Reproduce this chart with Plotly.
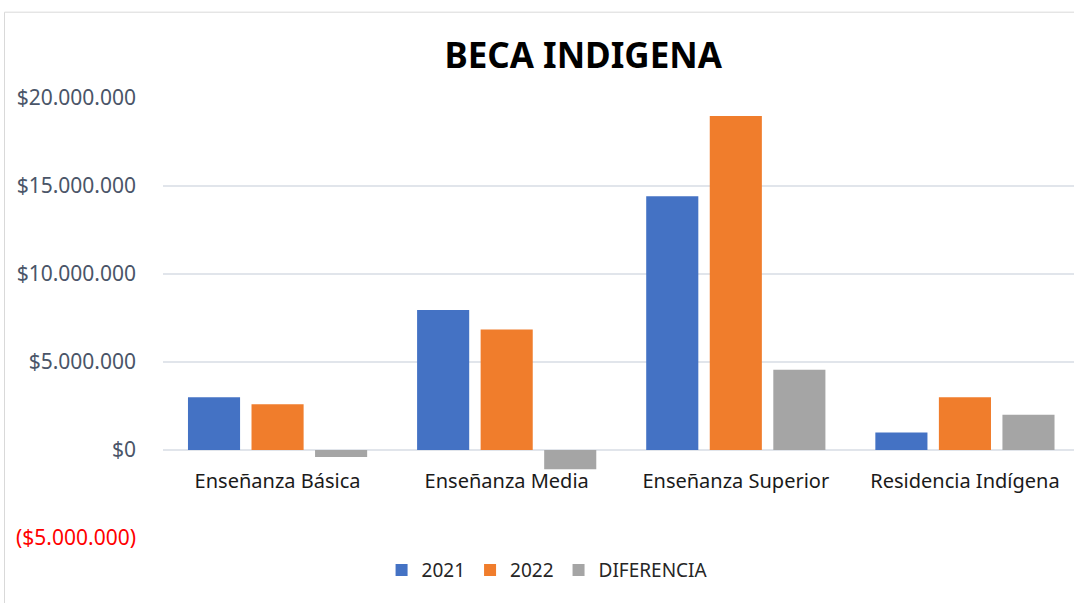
import plotly.graph_objects as go

categories = ["Enseñanza Básica", "Enseñanza Media", "Enseñanza Superior", "Residencia Indígena"]
v2021 = [3000000, 7950000, 14420000, 1000000]
v2022 = [2600000, 6850000, 18980000, 3000000]
vdif = [-400000, -1100000, 4560000, 2000000]
series_names = ["2021", "2022", "DIFERENCIA"]
colors = ["#4472C4", "#F07D2C", "#A5A5A5"]
tick_vals = [-5000000, 0, 5000000, 10000000, 15000000, 20000000]
tick_text = ['<span style="color:#FF0000">($5.000.000)</span>', "$0", "$5.000.000",
             "$10.000.000", "$15.000.000", "$20.000.000"]

fig = go.Figure()
for name, vals, c in zip(series_names, [v2021, v2022, vdif], colors):
    fig.add_trace(go.Bar(x=categories, y=vals, name=name, marker=dict(color=c, line=dict(width=0))))

FONT = "Noto Sans"
fig.update_layout(
    width=1074, height=603,
    margin=dict(l=163, r=0, t=98, b=65),
    paper_bgcolor="white", plot_bgcolor="white",
    barmode="group", bargap=0.168, bargroupgap=0.18,
    title=dict(text="<b>BECA INDIGENA</b>", x=0.543, xref="container", xanchor="center",
               y=0.908, yref="container", yanchor="middle",
               font=dict(family=FONT, size=35, color="#000000")),
    legend=dict(orientation="h", x=0.4216, xanchor="center", y=-0.073, yanchor="middle",
                font=dict(family=FONT, size=19, color="#262626"), itemwidth=30,
                traceorder="normal", bgcolor="rgba(0,0,0,0)"),
    font=dict(family=FONT),
    shapes=[dict(type="rect", xref="paper", yref="paper", x0=-0.174, x1=1.02, y0=-0.3, y1=1.195,
                 line=dict(color="#D9D9D9", width=1), fillcolor="rgba(0,0,0,0)", layer="below")],
)
fig.update_xaxes(range=[-0.5, 3.476], anchor="free", position=0.2, showline=False, ticks="",
                 showgrid=False, ticklabelstandoff=17,
                 tickfont=dict(family=FONT, size=20, color="#1a1a1a"))
fig.update_yaxes(range=[-5000000, 20000000], tickvals=tick_vals, ticktext=tick_text,
                 showgrid=True, gridcolor="#E1E5EB", gridwidth=2, zeroline=True,
                 zerolinecolor="#E1E5EB", zerolinewidth=2, showline=False, ticks="",
                 ticklabelstandoff=26,
                 tickfont=dict(family=FONT, size=21, color="#4A5568"))

fig.write_html("out.html", config={"displayModeBar": False},
               post_script="document.body.style.margin='0';document.body.style.overflow='hidden';")
